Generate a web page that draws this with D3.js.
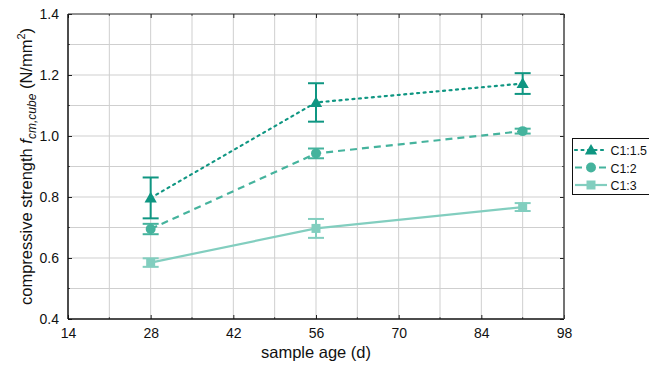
<!DOCTYPE html>
<html><head><meta charset="utf-8">
<script src="https://cdn.jsdelivr.net/npm/d3@7"></script>
<style>body{margin:0;background:#fff;font-family:"Liberation Sans",Arial,sans-serif}</style>
</head><body><svg id="c" width="649" height="366"></svg>
<script>
const ages = [28, 56, 91];
const seriesNames = ["C1:1.5", "C1:2", "C1:3"];
const meanC15 = [0.797, 1.110, 1.172];
const errC15 = [0.067, 0.063, 0.034];
const meanC2 = [0.695, 0.943, 1.016];
const errC2 = [0.017, 0.016, 0.008];
const meanC3 = [0.585, 0.697, 0.767];
const errC3 = [0.014, 0.031, 0.013];
const xTicks = [14, 28, 42, 56, 70, 84, 98];
const yTicks = [0.4, 0.6, 0.8, 1.0, 1.2, 1.4];

const colors = ["#0f9682", "#45b39d", "#82cebf"];
const dashes = ["2,4.5", "7,5", null];
const shapes = [d3.symbolTriangle, d3.symbolCircle, d3.symbolSquare];
const sizes = [65, 78, 81];

const L = 68, R = 564, T = 14, B = 319;
const svg = d3.select("#c");
const x = d3.scaleLinear().domain([14, 98]).range([L, R]);
const y = d3.scaleLinear().domain([0.4, 1.4]).range([B, T]);

// grid
const g = svg.append("g");
g.selectAll(".vg").data(d3.range(21, 98, 7)).join("line")
  .attr("x1", d => x(d)).attr("x2", d => x(d)).attr("y1", T).attr("y2", B)
  .attr("stroke", "#cfcfcf").attr("stroke-width", 1);
g.selectAll(".hg").data(d3.range(5, 14).map(v => v / 10)).join("line")
  .attr("y1", d => y(d)).attr("y2", d => y(d)).attr("x1", L).attr("x2", R)
  .attr("stroke", "#cfcfcf").attr("stroke-width", 1);

// axes (ticks inward)
const fmt = d3.format(".1f");
const ax = svg.append("g").attr("transform", `translate(0,${B})`)
  .call(d3.axisBottom(x).tickValues(xTicks).tickSize(-4).tickPadding(9));
const ay = svg.append("g").attr("transform", `translate(${L},0)`)
  .call(d3.axisLeft(y).tickValues(yTicks).tickFormat(fmt).tickSize(-4).tickPadding(9));
const axt = svg.append("g").attr("transform", `translate(0,${T})`)
  .call(d3.axisTop(x).tickValues(xTicks).tickSize(-4).tickFormat(""));
const ayr = svg.append("g").attr("transform", `translate(${R},0)`)
  .call(d3.axisRight(y).tickValues(yTicks).tickSize(-4).tickFormat(""));
[ax, ay, axt, ayr].forEach(a => {
  a.select(".domain").remove();
  a.selectAll("line").attr("stroke", "#222");
  a.selectAll("text").attr("font-size", 14).attr("fill", "#111").attr("font-family", "Liberation Sans, Arial, sans-serif");
});
// minor ticks
svg.append("g").selectAll("line").data(d3.range(21, 98, 14)).join("line")
  .attr("x1", d => x(d)).attr("x2", d => x(d)).attr("y1", B).attr("y2", B - 2).attr("stroke", "#555");
svg.append("g").selectAll("line").data(d3.range(21, 98, 14)).join("line")
  .attr("x1", d => x(d)).attr("x2", d => x(d)).attr("y1", T).attr("y2", T + 2).attr("stroke", "#555");
svg.append("g").selectAll("line").data([0.5, 0.7, 0.9, 1.1, 1.3]).join("line")
  .attr("y1", d => y(d)).attr("y2", d => y(d)).attr("x1", L).attr("x2", L + 2).attr("stroke", "#555");
svg.append("g").selectAll("line").data([0.5, 0.7, 0.9, 1.1, 1.3]).join("line")
  .attr("y1", d => y(d)).attr("y2", d => y(d)).attr("x1", R).attr("x2", R - 2).attr("stroke", "#555");

// frame
svg.append("line").attr("x1", L).attr("x2", L).attr("y1", T).attr("y2", B).attr("stroke", "#111").attr("stroke-width", 1.5);
svg.append("line").attr("x1", L).attr("x2", R).attr("y1", B).attr("y2", B).attr("stroke", "#111").attr("stroke-width", 1.5);
svg.append("line").attr("x1", R).attr("x2", R).attr("y1", T).attr("y2", B).attr("stroke", "#444").attr("stroke-width", 1.5);
svg.append("line").attr("x1", L).attr("x2", R).attr("y1", T).attr("y2", T).attr("stroke", "#222").attr("stroke-width", 1);

// data
const means = [meanC15, meanC2, meanC3];
const errs = [errC15, errC2, errC3];
const line = d3.line().x(d => x(d[0])).y(d => y(d[1]));
[2, 1, 0].forEach(i => {
  const pts = ages.map((a, j) => [a, means[i][j], errs[i][j]]);
  svg.append("path").datum(pts).attr("d", line).attr("fill", "none")
    .attr("stroke", colors[i]).attr("stroke-width", 2.2)
    .attr("stroke-dasharray", dashes[i]).attr("stroke-linecap", i === 0 ? "round" : "butt");
  const eb = svg.append("g").attr("stroke", colors[i]).attr("stroke-width", 2);
  pts.forEach(p => {
    eb.append("line").attr("x1", x(p[0])).attr("x2", x(p[0])).attr("y1", y(p[1] - p[2])).attr("y2", y(p[1] + p[2]));
    eb.append("line").attr("x1", x(p[0]) - 8).attr("x2", x(p[0]) + 8).attr("y1", y(p[1] - p[2])).attr("y2", y(p[1] - p[2]));
    eb.append("line").attr("x1", x(p[0]) - 8).attr("x2", x(p[0]) + 8).attr("y1", y(p[1] + p[2])).attr("y2", y(p[1] + p[2]));
  });
  svg.append("g").selectAll("path").data(pts).join("path")
    .attr("d", d3.symbol(shapes[i], sizes[i]))
    .attr("transform", d => `translate(${x(d[0])},${y(d[1]) + (i === 0 ? 1 : 0)})`)
    .attr("fill", colors[i]);
});

// legend
const lg = svg.append("g");
lg.append("rect").attr("x", 572.5).attr("y", 138.5).attr("width", 90).attr("height", 56)
  .attr("fill", "#fff").attr("stroke", "#111").attr("stroke-width", 1);
seriesNames.forEach((n, i) => {
  const yy = 150 + i * 17.5;
  lg.append("line").attr("x1", 575).attr("x2", 607).attr("y1", yy).attr("y2", yy)
    .attr("stroke", colors[i]).attr("stroke-width", 2.2).attr("stroke-dasharray", dashes[i])
    .attr("stroke-linecap", i === 0 ? "round" : "butt");
  lg.append("path").attr("d", d3.symbol(shapes[i], sizes[i])).attr("transform", `translate(591,${yy + (i === 0 ? 1 : 0)})`).attr("fill", colors[i]);
  lg.append("text").attr("x", 610.5).attr("y", yy + 5).text(n).attr("font-size", 12.4).attr("fill", "#111");
});

// axis titles
svg.append("text").attr("x", (L + R) / 2).attr("y", 358).attr("text-anchor", "middle")
  .attr("font-size", 16.5).attr("fill", "#111").text("sample age (d)");
const yt = svg.append("text").attr("transform", `translate(32,${(T + B) / 2}) rotate(-90)`)
  .attr("text-anchor", "middle").attr("font-size", 16.5).attr("fill", "#111");
yt.append("tspan").text("compressive strength ");
yt.append("tspan").attr("font-style", "italic").text("f");
yt.append("tspan").attr("font-style", "italic").attr("font-size", 12).attr("dy", 4).text("cm,cube");
yt.append("tspan").attr("dy", -4).text(" (N/mm");
yt.append("tspan").attr("font-size", 11).attr("dy", -7).text("2");
yt.append("tspan").attr("dy", 7).text(")");
</script></body></html>
